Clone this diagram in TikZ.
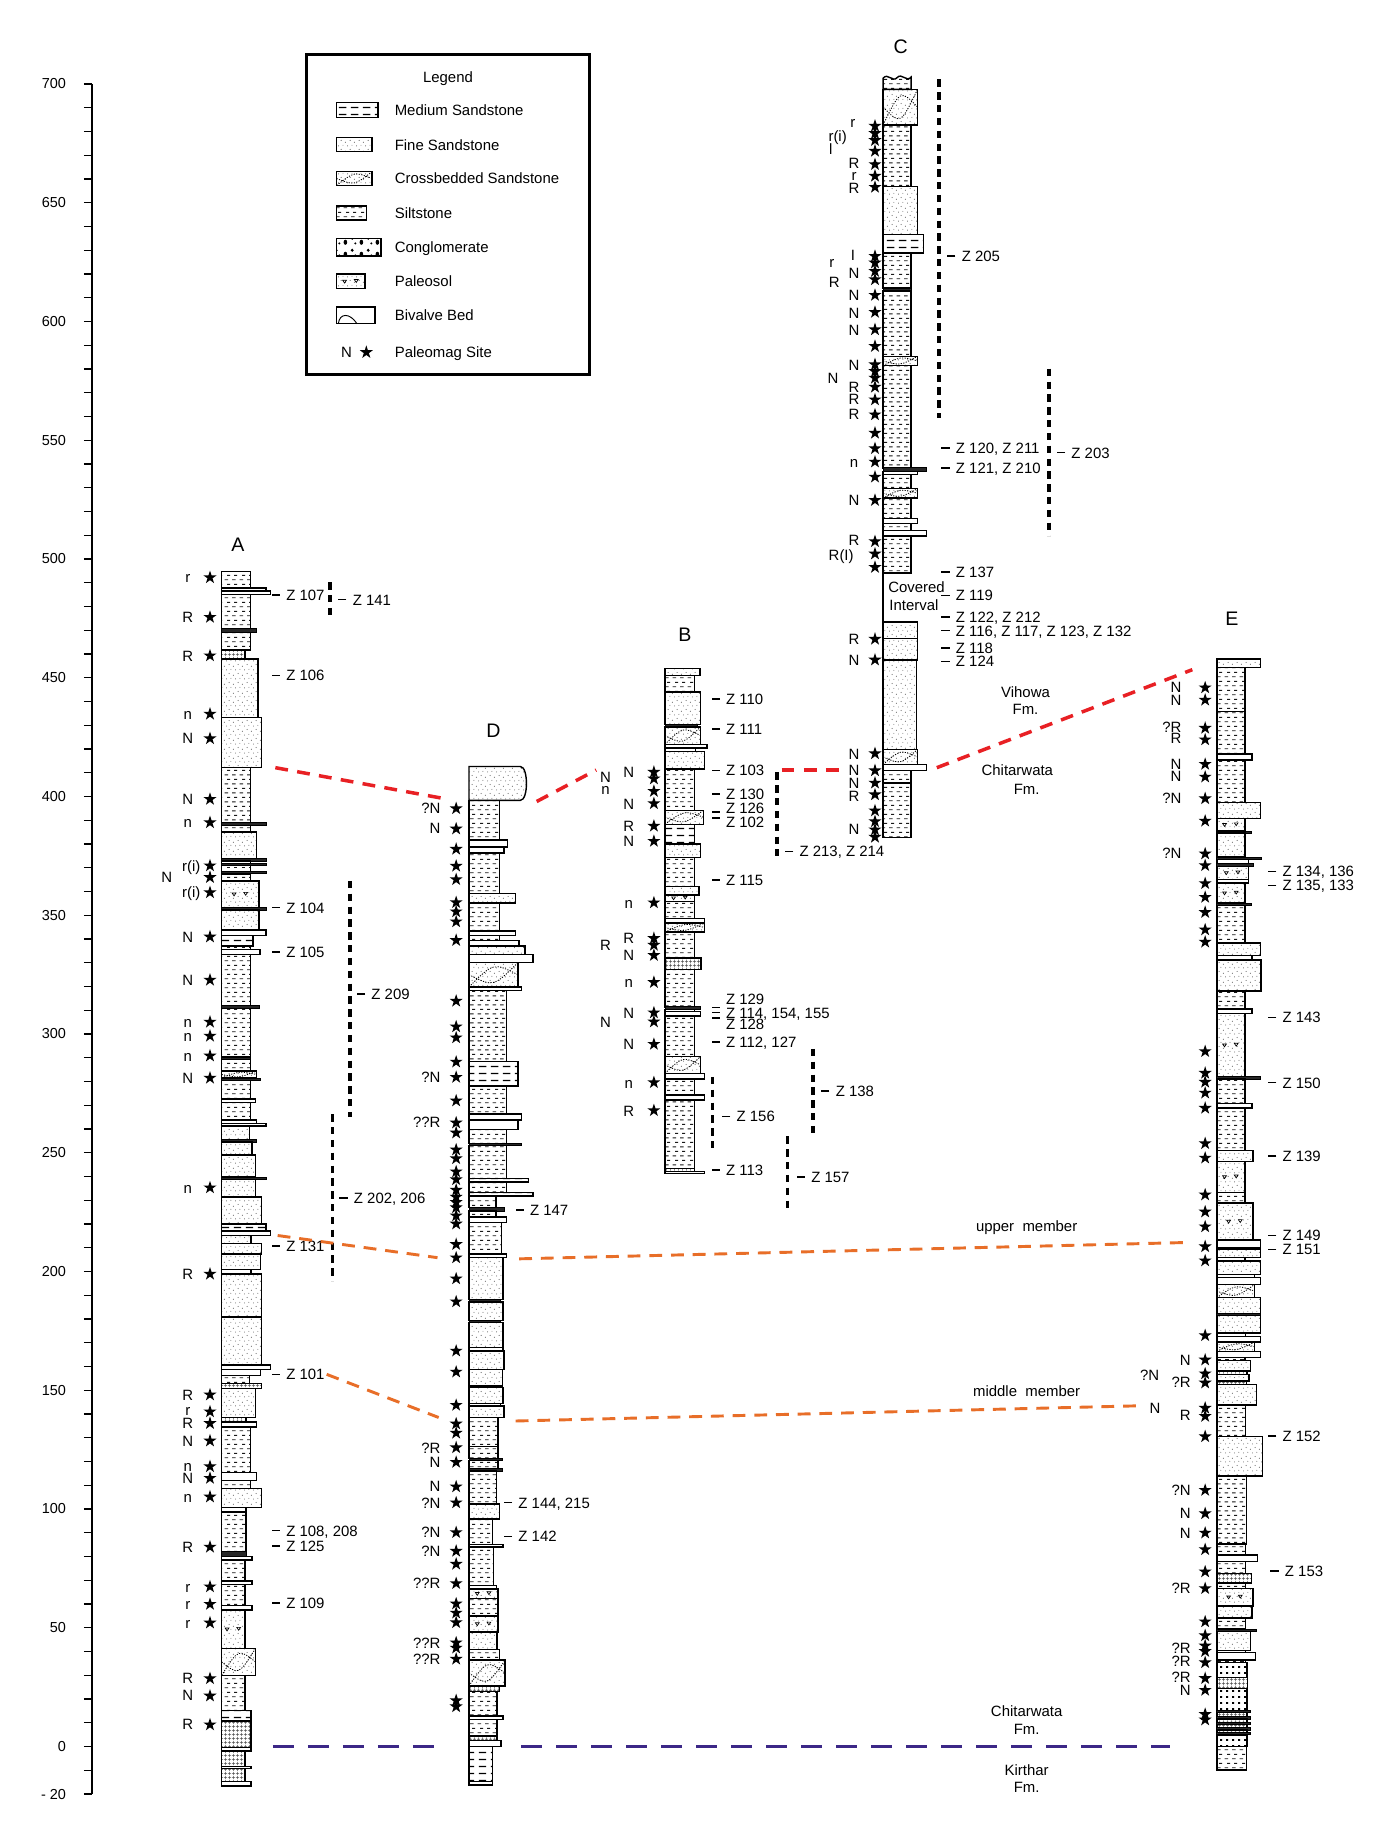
\documentclass[tikz,border=0pt]{standalone}
\usepackage{fontspec}
\setmainfont{Liberation Sans}
\usetikzlibrary{patterns,patterns.meta,shapes.geometric}
\definecolor{corrred}{RGB}{232,32,36}
\definecolor{corrorange}{RGB}{232,110,40}
\definecolor{corrpurple}{RGB}{60,40,135}
\newcommand\lbl{\fontsize{6.4pt}{7pt}\selectfont}
\newcommand\ttlfont{\fontsize{8.4pt}{9pt}\selectfont}
\tikzdeclarepattern{name=sanddots,type=uncolored,bottom left={(0pt,0pt)},top right={(4pt,4pt)},tile size={(4pt,4pt)},
 code={\fill (0.6pt,0.8pt) circle[radius=0.24pt];\fill (2.8pt,1.6pt) circle[radius=0.24pt];\fill (1.6pt,3.2pt) circle[radius=0.22pt];\fill (3.6pt,3.5pt) circle[radius=0.2pt];}}
\tikzdeclarepattern{name=siltdash,type=uncolored,bottom left={(0pt,0pt)},top right={(6.4pt,3.8pt)},tile size={(6.4pt,3.8pt)},
 code={\draw[line width=0.4pt] (0.3pt,0.95pt) -- (1.8pt,0.95pt) (3.5pt,0.95pt) -- (5pt,0.95pt) (1.3pt,2.85pt) -- (2.6pt,2.85pt) (4.3pt,2.85pt) -- (5.6pt,2.85pt);}}
\tikzdeclarepattern{name=meddash,type=uncolored,bottom left={(0pt,0pt)},top right={(5pt,3pt)},tile size={(5pt,3pt)},
 code={\draw[line width=0.45pt] (0.4pt,1.5pt) -- (3.6pt,1.5pt);}}
\tikzdeclarepattern{name=finegrid,type=uncolored,bottom left={(0pt,0pt)},top right={(1.5pt,1.5pt)},tile size={(1.5pt,1.5pt)},
 code={\draw[line width=0.25pt] (0pt,0.75pt) -- (1.5pt,0.75pt) (0.75pt,0pt) -- (0.75pt,1.5pt);}}
\tikzdeclarepattern{name=pebbles,type=uncolored,bottom left={(0pt,0pt)},top right={(2.6pt,2.6pt)},tile size={(2.6pt,2.6pt)},
 code={\fill (0.5pt,0.5pt) rectangle (1.5pt,1.4pt);}}
\tikzdeclarepattern{name=blobs,type=uncolored,bottom left={(0pt,0pt)},top right={(7pt,5pt)},tile size={(7pt,5pt)},
 code={\fill (1.5pt,1.6pt) ellipse[x radius=0.8pt,y radius=1.1pt];\fill (4.5pt,3.3pt) circle[radius=0.7pt];\fill (5.9pt,1.1pt) circle[radius=0.5pt];}}
\newcommand\beds[2]{%
  \foreach \bt/\bb/\bw/\bs in {#2}{%
    \edef\bedcmd{\noexpand\path[\bs]}%
    \bedcmd (#1,\bt) rectangle (#1+\bw,\bb);%
  }}
\newcommand\stars[3]{%
  \foreach \yy [count=\ii] in {#3}{\node[st] (#1\ii) at (#2,\yy) {};}}
\newcommand\labs[3]{%
  \foreach \xx/\yy/\txt [count=\ii] in {#3}{\node[lab,anchor=#2] (#1\ii) at (\xx,\yy) {\txt};}}
\newcommand\zl[4]{%
  \node[lab,anchor=west] (#1) at (#2+12,#3) {#4};
  \draw[zdash] ([xshift=-2.5pt]#1.west) -- ++(-3.5pt,0pt);}
\begin{document}
\begin{tikzpicture}[x=0.5pt,y=-0.5pt,
  bedline/.style={draw=black,line width=0.6pt},
  silt/.style={bedline,pattern=siltdash,pattern color=black!90},
  ss/.style={bedline,pattern=sanddots,pattern color=black!70},
  med/.style={bedline,pattern=meddash,pattern color=black},
  grid/.style={bedline,pattern=finegrid,pattern color=black!70},
  cong/.style={bedline,pattern=pebbles,pattern color=black},
  blobs/.style={bedline,pattern=blobs,pattern color=black},
  thin/.style={bedline,fill=white},
  dark/.style={draw=black,line width=0.3pt,fill=black!85},
  xb/.style={ss,path picture={\draw[line width=0.35pt,dash pattern=on 0.5pt off 0.6pt]
     (path picture bounding box.south west) .. controls (path picture bounding box.north) .. (path picture bounding box.east)
     (path picture bounding box.west) .. controls (path picture bounding box.south) .. (path picture bounding box.north east);}},
  pal/.style={ss,path picture={\draw[line width=0.3pt]
     (path picture bounding box.center) ++(-3.5pt,0.5pt) -- ++(1.6pt,0pt) -- ++(-0.8pt,-1.2pt) -- cycle
     (path picture bounding box.center) ++(1.5pt,0.8pt) -- ++(1.6pt,0pt) -- ++(-0.8pt,-1.2pt) -- cycle;}},
  st/.style={star,star points=5,star point ratio=2.6,fill=black,draw=none,inner sep=0pt,minimum size=5.9pt},
  lab/.style={font=\lbl,inner sep=0pt,text height=4.6pt,text depth=0pt},
  ttl/.style={font=\ttlfont,inner sep=0pt},
  num/.style={font=\fontsize{6.2pt}{7pt}\selectfont,inner sep=0pt,anchor=east},
  zdash/.style={line width=0.65pt},
  rng/.style={line width=1.5pt,dash pattern=on 3.2pt off 2.3pt},
  redc/.style={corrred,line width=1.5pt,dash pattern=on 5.5pt off 4pt},
  orac/.style={corrorange,line width=1.25pt,dash pattern=on 5.5pt off 3.8pt},
  purc/.style={corrpurple,line width=1.25pt,dash pattern=on 9pt off 6pt}]
\useasboundingbox (0,0) rectangle (1200,1570.3);
\fill[white] (0,0) rectangle (1200,1570.3);

% ---------------- axis
\draw[line width=0.6pt] (79,72) -- (79,1538);
\foreach \k in {0,...,72} \draw[line width=0.6pt] (72,{72+\k*20.357}) -- (79,{72+\k*20.357});
\foreach \v in {700,650,...,0} \node[num] (ax\v) at (57,{1497-2.0357*\v}) {\v};
\node[num] (axm20) at (57,1538) {- 20};

% ---------------- legend
\draw[line width=1.25pt] (263,47) rectangle (505,321);
\node[lab] (legtitle) at (384,66) {Legend};
\path[med] (288.5,88) rectangle (324,100.5);
\path[ss] (288.5,118) rectangle (319,130);
\path[xb] (288.5,147) rectangle (319,159);
\path[silt] (288.5,176.5) rectangle (314,188.5);
\path[blobs] (288.5,204.5) rectangle (326.5,219.5);
\path[pal] (288.5,235) rectangle (313,247.5);
\path[thin] (288.5,263) rectangle (321.5,277.5);
\draw[line width=0.4pt] (290,277.5) .. controls (291,268) and (300,268) .. (306,277.5);
\node[lab] (legN) at (297,302) {N};
\node[st] (legstar) at (314,302) {};
\node[lab,anchor=west] (leg1) at (338,94.5) {Medium Sandstone};
\node[lab,anchor=west] (leg2) at (338,124) {Fine Sandstone};
\node[lab,anchor=west] (leg3) at (338,153) {Crossbedded Sandstone};
\node[lab,anchor=west] (leg4) at (338,182.5) {Siltstone};
\node[lab,anchor=west] (leg5) at (338,211.5) {Conglomerate};
\node[lab,anchor=west] (leg6) at (338,241) {Paleosol};
\node[lab,anchor=west] (leg7) at (338,270) {Bivalve Bed};
\node[lab,anchor=west] (leg8) at (338,302) {Paleomag Site};

% ---------------- column titles
\node[ttl] (tA) at (204,467) {A};
\node[ttl] (tD) at (423,626) {D};
\node[ttl] (tB) at (587,544) {B};
\node[ttl] (tC) at (772,40) {C};
\node[ttl] (tE) at (1056,530) {E};

% ---------------- column A
\beds{190}{490/504/24.5/silt,504/506.5/38/thin,506.5/509.5/42/thin,509.5/539/24.5/silt,539/542/30/dark,542/557/24.5/silt,557/565/20/grid,565/615/31/ss,615/658/34/ss,658/705/24.5/silt,705/707.5/38/dark,707.5/713/24.5/silt,713/736/30/ss,736/738/38/dark,738/740/24.5/thin,740/742/38/dark,742/747/24.5/silt,747/749/38/dark,749/755/24.5/silt,755/778/32/pal,778/780/38/dark,780/797/32/ss,797/802/38/thin,802/811/27/med,811/814/24.5/silt,814/818/33/thin,818/862/24.5/silt,862/864.5/32/dark,864.5/906/24.5/silt,906/908/24.5/dark,908/918/24.5/silt,918/924/30/xb,924/926/33/dark,926/942/24.5/silt,942/945/29/thin,945/960/24.5/silt,960/963/30/thin,963/965/38/thin,965/977/24/ss,977/979/30/dark,979/990/26/ss,990/1009/29/ss,1009/1011/38/dark,1011/1026/29/ss,1026/1049/34/ss,1049/1055/38/med,1055/1059/42/thin,1059/1066/25/ss,1066/1075/34/ss,1075/1088/33.5/ss,1088/1092/25/thin,1092/1129/34/ss,1129/1170/34/ss,1170/1174/42/thin,1174/1179/33.5/thin,1179/1186/24/silt,1186/1190/34/grid,1190/1215/29/ss,1215/1219/21/grid,1219/1223/30/thin,1223/1262/24.5/silt,1262/1269/30/thin,1269/1276/24.5/silt,1276/1292/34/ss,1292/1296/21/thin,1296/1330/21/silt,1330/1334/21/dark,1334/1337/26/thin,1337/1355/20/silt,1355/1358/26/thin,1358/1376/20/silt,1376/1380/26/thin,1380/1413/20/pal,1413/1436/29/xb,1436/1466/20/silt,1466/1475/25/med,1475/1498/25/grid,1498/1501/25/thin,1501/1514/20/grid,1514/1516/25/thin,1516/1527/20/grid,1527/1531/25/thin}
\stars{sA}{180}{495,529,562,612,633,685,705,742,752,765,803,840,876,888,905,924,1018,1092,1195.5,1210,1220,1235,1257,1267,1283,1326,1360,1375,1391,1438.7,1453.6,1478.3}
\labs{lA}{center}{161/495/r,161/529/R,161/562/R,161/612/n,161/633/N,161/685/N,161/705/n,164/742/r(i),143/752/N,164/765/r(i),161/803/N,161/840/N,161/876/n,161/888/n,161/905/n,161/924/N,161/1018/n,161/1092/R,161/1196/R,161/1209/r,161/1220/R,161/1235/N,161/1257/n,161/1267/N,161/1283/n,161/1326/R,161/1360/r,161/1375/r,161/1391/r,161/1438/R,161/1453/N,161/1478/R}
\zl{zA1}{233}{510}{Z 107}
\zl{zA2}{233}{579}{Z 106}
\zl{zA3}{233}{778}{Z 104}
\zl{zA4}{233}{816}{Z 105}
\zl{zA5}{233}{1068}{Z 131}
\zl{zA6}{233}{1178}{Z 101}
\zl{zA7}{233}{1312}{Z 108, 208}
\zl{zA8}{233}{1325}{Z 125}
\zl{zA9}{233}{1374}{Z 109}
\draw[rng] (283,499) -- (283,527);
\zl{zA10}{290}{514}{Z 141}
\draw[rng] (300,755) -- (300,957);
\zl{zA11}{306}{852}{Z 209}
\draw[rng] (285,955) -- (285,1098);
\zl{zA12}{291}{1027}{Z 202, 206}

% ---------------- column D
\path[ss] (402,686) -- (402,657) -- (446,657) .. controls (453,657) and (453,686) .. (446,686) -- cycle;
\beds{402}{686/720/26/silt,720/726/33/thin,726/731/30/thin,731/766/26/silt,766/774/40/ss,774/798/26/silt,798/802/40/thin,802/806/26/silt,806/811/43/thin,811/818/48/ss,818/825/55/thin,825/846/42/xb,846/849/45/thin,849/910/32/silt,910/931/42/med,931/955/32/silt,955/960/45/thin,960/968/42/thin,968/980/32/silt,980/982/45/dark,982/1010/32/silt,1010/1013/51/med,1013/1022/32/silt,1022/1025/55/med,1025/1035/23/silt,1035/1038/30/dark,1038/1043/23/silt,1043/1048/32/thin,1048/1075/28/silt,1075/1078/32/med,1078/1114/29/ss,1114/1116/27/dark,1116/1132/29/ss,1132/1133.5/27/dark,1133.5/1155/29/ss,1155/1158/29/thin,1158/1174/30/ss,1174/1188/28.5/ss,1188/1189.5/29/dark,1189.5/1203/29/ss,1203/1205/27/thin,1205/1215/30/ss,1215/1240/25/silt,1240/1250/25/silt,1250/1252/28.5/dark,1252/1259/25/silt,1259/1261/28.5/dark,1261/1289/23.5/silt,1289/1302/26/ss,1302/1324/20/silt,1324/1326/29/thin,1326/1359/21/silt,1359/1362/23.5/thin,1362/1370/25/pal,1370/1385/25/silt,1385/1399/25/pal,1399/1414/24/ss,1414/1423/26/silt,1423/1445/31/xb,1445/1450/26/grid,1450/1471/24/silt,1471/1474/29/thin,1474/1488/24/silt,1488/1492/24/grid,1492/1497/27.5/thin,1497/1527/20/med,1527/1530/20/thin}
\stars{sD}{391}{693,710.4,727.8,742.3,753.8,773.5,781.4,790,806,858,880,889.4,910.2,923.3,943.5,962.4,971,985.5,993,1004.3,1011,1020,1026,1030.5,1035,1042,1049,1066.6,1078,1096,1115.7,1157.9,1175.9,1204.4,1220.4,1228.3,1240.8,1253.3,1274.3,1288,1313.5,1329.5,1340.6,1357.2,1374.6,1382.5,1390.7,1408,1412.5,1422,1457.6,1462.8}
\labs{lD}{east}{378/693/?N,378/710/N,378/923/?N,378/962/??R,378/1241/?R,378/1253/N,378/1274/N,378/1288/?N,378/1313.5/?N,378/1329.5/?N,378/1357/??R,378/1408/??R,378/1422/??R}
\zl{zD1}{442}{1037}{Z 147}
\zl{zD2}{432}{1288}{Z 144, 215}
\zl{zD3}{432}{1317}{Z 142}

% ---------------- column B
\beds{570}{573/579/30/ss,579/593/25.5/silt,593/621/30.5/ss,621/623/28/dark,623/638/30.5/xb,638/641/36/thin,641/644/26/thin,644/659/34/ss,659/694.5/25.5/silt,694.5/706.5/33/xb,706.5/723.5/25.5/med,723.5/735/30.5/ss,735/760/25.5/silt,760/767/29/ss,767/772.5/25.5/pal,772.5/787.5/25.5/silt,787.5/791/34/thin,791/799/34/xb,799/821/25.5/silt,821/831/31/grid,831/863/25.5/silt,863/865.5/30.5/dark,865.5/867/25.5/silt,867/871/30.5/thin,871/905.5/25.5/silt,905.5/920/30.5/xb,920/925/34/thin,925/938.5/25.5/silt,938.5/943/34/thin,943/1001.5/25.5/silt,1001.5/1004/25.5/grid,1004/1006/34/thin}
\stars{sB}{560.5}{661.8,667.5,678.2,688.7,708,721,773.7,804.3,810.1,818.8,842,868,875.8,895,927.8,951.8}
\labs{lB}{center}{539/662/N,539/689/N,539/708/R,539/721/N,539/774/n,539/804/R,539/819/N,539/842/n,539/868/N,539/895/N,539/928/n,539/952/R,519/666/N,519/676/n,519/810/R,519/876/N}
\zl{zB1}{610}{599}{Z 110}
\zl{zB2}{610}{624.7}{Z 111}
\zl{zB3}{610}{660.3}{Z 103}
\zl{zB4}{610}{680.6}{Z 130}
\node[lab,anchor=west] (zB5) at (622,693) {Z 126};
\node[lab,anchor=west] (zB6) at (622,704.5) {Z 102};
\draw[zdash] ([xshift=-2.5pt,yshift=-1.6pt]zB5.west) -- ++(-3.5pt,0pt);
\draw[zdash] ([xshift=-2.5pt,yshift=1.6pt]zB6.west) -- ++(-3.5pt,0pt);
\zl{zB7}{610}{754.3}{Z 115}
\node[lab,anchor=west] (zB8) at (622,856.4) {Z 129};
\node[lab,anchor=west] (zB9) at (622,868) {Z 114, 154, 155};
\node[lab,anchor=west] (zB10) at (622,878) {Z 128};
\draw[zdash] ([xshift=-2.5pt,yshift=2.3pt]zB9.west) -- ++(-3.5pt,0pt);
\draw[zdash] ([xshift=-2.5pt]zB9.west) -- ++(-3.5pt,0pt);
\draw[zdash] ([xshift=-2.5pt,yshift=-2.3pt]zB9.west) -- ++(-3.5pt,0pt);
\zl{zB11}{610}{893.1}{Z 112, 127}
\zl{zB12}{610}{1003}{Z 113}
\draw[rng] (666,662) -- (666,734);
\zl{zB13}{673}{729.7}{Z 213, Z 214}
\draw[rng] (610.6,923) -- (610.6,985);
\zl{zB14}{619}{957}{Z 156}
\draw[rng] (697,899) -- (697,973);
\zl{zB15}{704}{935}{Z 138}
\draw[rng] (675,974) -- (675,1036);
\zl{zB16}{683}{1009}{Z 157}

% ---------------- column C
\path[silt] (757,76.6) -- (757,67) .. controls (761,62) and (765,71) .. (769,66.5) .. controls (773,62) and (777,71) .. (781,66) -- (781,76.6) -- cycle;
\beds{757}{76.6/107/29.5/xb,107/160/24/silt,160/201/29.5/ss,201/216.7/34.5/med,216.7/247/24/silt,247/249.5/24/dark,249.5/305.4/24/silt,305.4/313.4/29.5/xb,313.4/401/24/silt,401/404/37/dark,404/406.8/29.5/thin,406.8/418.8/24/silt,418.8/426.8/29.5/xb,426.8/444.6/24/silt,444.6/448.9/29.5/thin,448.9/454.6/24/silt,454.6/459.5/37/thin,459.5/491/24/silt,533/547.3/29.5/ss,547.3/565.6/29.5/ss,565.6/642.4/28.5/ss,642.4/655.3/29.5/xb,655.3/660.2/37/thin,660.2/671/24/silt,671/717.6/24/silt}
\draw[bedline] (757,491) -- (757,533);
\stars{sC}{750}{108,114.3,120.3,129.5,140.9,150.9,160.4,219.6,225.3,232.5,239.6,253,267.6,282.5,296.8,312.5,318.3,324,331.7,342.6,355.4,371.2,384.4,395.9,408.8,428.8,464.1,474.7,486.2,547.8,565.6,645.9,660.5,671.1,681.1,694.9,704.1,711.2,717.5}
\labs{lC}{center}{731/105/r,718/117/r(i),712/128/l,732/140/R,732/150.5/r,732/161/R,731/219/I,713/225/r,732/234/N,715/242/R,732/253/N,732/268/N,732/283/N,732/313/N,714/324/N,732/331.5/R,732/342/R,732/355/R,732/396/n,732/429/N,732/463/R,721/476/R(I),732/548/R,732/566/N,732/646/N,732/660/N,732/671/N,732/682/R,732/711/N}
\draw[rng] (805,68) -- (805,358);
\zl{zC1}{812}{219.6}{Z 205}
\draw[rng] (899,316) -- (899,459);
\zl{zC2}{906}{388}{Z 203}
\zl{zC3}{807}{384}{Z 120, Z 211}
\zl{zC4}{807}{401}{Z 121, Z 210}
\zl{zC5}{807}{490.5}{Z 137}
\zl{zC6}{807}{510.5}{Z 119}
\zl{zC7}{807}{529}{Z 122, Z 212}
\zl{zC8}{807}{540.6}{Z 116, Z 117, Z 123, Z 132}
\zl{zC9}{807}{555.6}{Z 118}
\zl{zC10}{807}{567}{Z 124}
\node[lab,anchor=west] (cov1) at (761,503) {Covered};
\node[lab,anchor=west] (cov2) at (762,518.3) {Interval};

% ---------------- column E
\beds{1043}{565/572/37.6/ss,572/610/24/silt,610/646.4/24/silt,646.4/651.4/30/thin,651.4/687.6/24/silt,687.6/701.5/37.6/ss,701.5/712.3/24/pal,712.3/714/29.5/dark,714/734.5/24/ss,734.5/736.5/38/dark,736.5/740/27/thin,740/742.5/31/dark,742.5/754/27/pal,754/757/27/thin,757/774/24/pal,774/776/29.5/dark,776/808.3/24/silt,808.3/819/37.6/ss,819/823/30/thin,823/849.5/38/ss,849.5/865/24/silt,865/868.7/30/thin,868.7/923/24/pal,923/925/37.6/dark,925/946/24/silt,946/949.8/30/thin,949.8/986.3/24/silt,986.3/995.6/31/ss,995.6/1022/24/pal,1022/1031/24/silt,1031/1063/31/pal,1063/1069.4/37.6/thin,1069.4/1070.4/37.6/dark,1070.4/1078/37.6/ss,1078/1081/24/silt,1081/1092.6/37.6/ss,1092.6/1095/32.4/thin,1095/1101/37.6/thin,1101/1112.3/32.4/xb,1112.3/1125.6/37.6/ss,1125.6/1127.5/37.6/dark,1127.5/1142.5/37.6/ss,1142.5/1145.6/24.4/thin,1145.6/1150.4/37.6/thin,1150.4/1158.3/32.4/xb,1158.3/1163.7/37.6/thin,1163.7/1166.3/24/silt,1166.3/1175.1/29/ss,1175.1/1178.3/26/grid,1178.3/1183.7/27.5/ss,1183.7/1186.9/25.5/grid,1186.9/1204.3/34/ss,1204.3/1231.3/24.4/silt,1231.3/1265.3/39/ss,1265.3/1323.4/25.5/silt,1323.4/1333/24.4/silt,1333/1338.3/34.7/thin,1338.3/1348.8/24.4/silt,1348.8/1356.7/29.5/grid,1356.7/1361.5/24.4/silt,1361.5/1376.4/31/pal,1376.4/1386.9/30/ss,1386.9/1396.4/24.4/silt,1396.4/1398.4/34/dark,1398.4/1414.5/29/ss,1414.5/1416.4/24.4/silt,1416.4/1422.7/33/thin,1422.7/1425/24.4/silt,1425/1437.6/26/cong,1437.6/1447.2/26.5/grid,1447.2/1466.2/26/cong,1466.2/1468/28.4/dark,1468/1471.5/26/grid,1471.5/1473.3/28.4/dark,1473.3/1476.5/26/grid,1476.5/1478.3/28.4/dark,1478.3/1481/26/grid,1481/1482.8/28.4/dark,1482.8/1485/26/grid,1485/1487/28.4/dark,1487/1497/26/cong,1497/1517/25.5/silt}
\stars{sE}{1033}{589.4,600,624.1,634,655,665.9,684.5,703.7,731.8,741.8,757.2,769,782,796.9,807.4,901.2,919.8,927.5,936.8,949.8,980.1,992.5,1024.1,1038.7,1051.4,1068.5,1080.6,1144.7,1165.6,1177.4,1185.3,1206.9,1213.9,1231.3,1277.3,1297.3,1313.9,1328.1,1347.2,1361.5,1390,1401.9,1410.7,1415.4,1425,1438.6,1448.7,1469.4,1474.1}
\labs{lE}{east}{1013/589/N,1013/600/N,1013/623/?R,1013/633/R,1013/655/N,1013/665/N,1013/684.5/?N,1013/731/?N,1021/1165.6/N,1021/1185/?R,1021/1213/R,1021/1277/?N,1021/1297/N,1021/1314/N,1021/1361.5/?R,1021/1413/?R,1021/1424/?R,1021/1437.6/?R,1021/1448.7/N,994/1179/?N,995/1207/N}
\zl{zE1}{1087}{747}{Z 134, 136}
\zl{zE2}{1087}{759}{Z 135, 133}
\zl{zE3}{1087}{872}{Z 143}
\zl{zE4}{1087}{928}{Z 150}
\zl{zE5}{1087}{991}{Z 139}
\zl{zE6}{1087}{1059}{Z 149}
\zl{zE7}{1087}{1071}{Z 151}
\zl{zE8}{1087}{1231}{Z 152}
\zl{zE9}{1089}{1346.5}{Z 153}

% ---------------- formation / member labels
\node[lab] (vih1) at (879,593) {Vihowa};
\node[lab] (vih2) at (879,608) {Fm.};
\node[lab] (chi1) at (872,660) {Chitarwata};
\node[lab] (chi2) at (880,676) {Fm.};
\node[lab] (upm) at (880,1051) {upper\ \ member};
\node[lab] (mim) at (880,1192) {middle\ \ member};
\node[lab] (chi3) at (880,1467) {Chitarwata};
\node[lab] (chi4) at (880,1482) {Fm.};
\node[lab] (kir1) at (880,1517) {Kirthar};
\node[lab] (kir2) at (880,1532) {Fm.};

% ---------------- correlation lines
\coordinate (rA) at (236,658);
\coordinate (rD1) at (378,684);
\coordinate (rD2) at (460,687);
\coordinate (rB1) at (511,660);
\coordinate (rB2) at (670,660);
\coordinate (rC1) at (726,660);
\coordinate (rC2) at (803,658);
\coordinate (rE) at (1022,574);
\draw[redc] (rA) -- (rD1);
\draw[redc] (rD2) -- (rB1);
\draw[redc] (rB2) -- (rC1);
\draw[redc] (rC2) -- (rE);
\coordinate (oA1) at (238,1059);
\coordinate (oD1) at (375,1078);
\coordinate (oD2) at (445,1079);
\coordinate (oE1) at (1017,1065);
\coordinate (oA2) at (280,1178);
\coordinate (oD3) at (376,1215);
\coordinate (oD4) at (442,1218);
\coordinate (oE2) at (975,1205);
\draw[orac] (oA1) -- (oD1);
\draw[orac] (oD2) -- (oE1);
\draw[orac] (oA2) -- (oD3);
\draw[orac] (oD4) -- (oE2);
\coordinate (pA) at (234,1497);
\coordinate (pD1) at (378,1497);
\coordinate (pD2) at (447,1497);
\coordinate (pE) at (1003,1497);
\draw[purc] (pA) -- (pD1);
\draw[purc] (pD2) -- (pE);
\end{tikzpicture}
\end{document}
